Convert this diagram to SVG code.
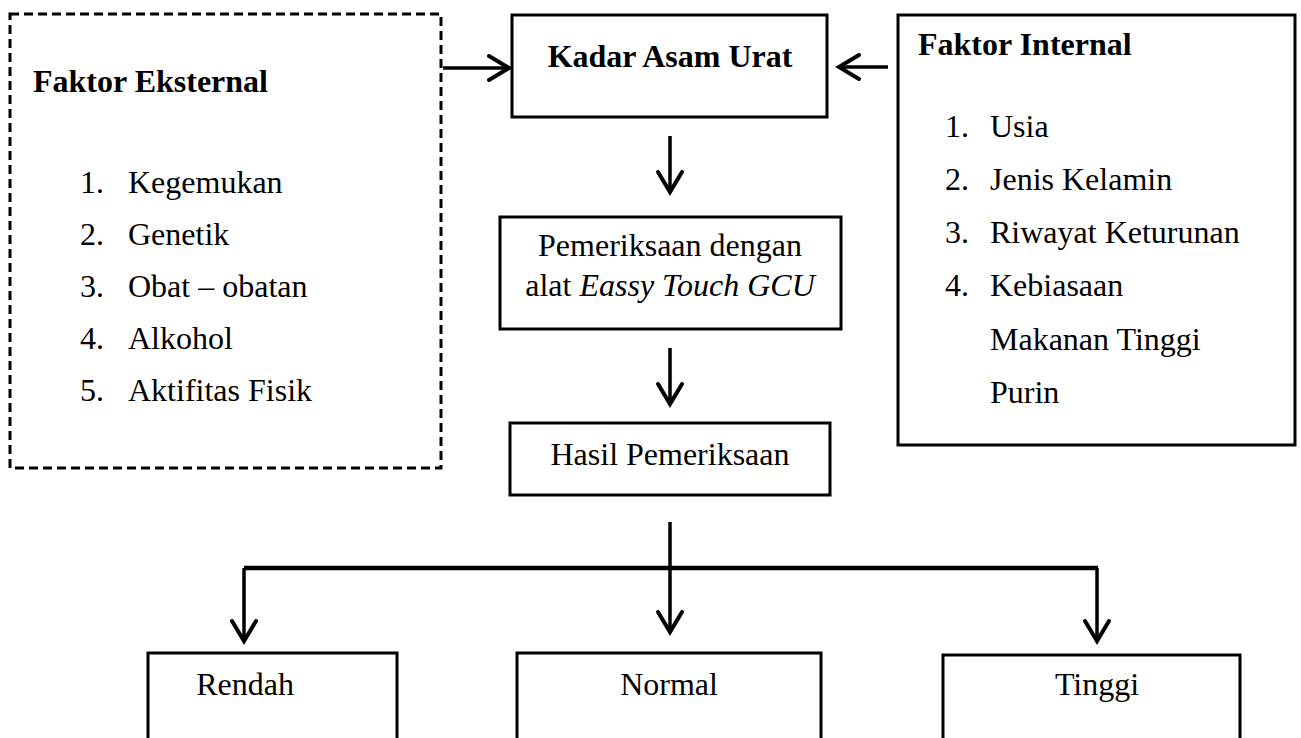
<svg xmlns="http://www.w3.org/2000/svg" width="1301" height="738" viewBox="0 0 1301 738">
<style>
.box{fill:#fff;stroke:#000;stroke-width:3}
.dash{fill:#fff;stroke:#000;stroke-width:3;stroke-dasharray:9 5}
.t{font-family:"Liberation Serif","Times New Roman",serif;font-size:32px;fill:#000}
.b{font-weight:bold}
.c{text-anchor:middle}
.ln{stroke:#000;stroke-width:3.5;fill:none}
.ah{stroke:#000;stroke-width:4;fill:none;stroke-linecap:round;stroke-linejoin:miter}
</style>
<rect width="1301" height="738" fill="#fff"/>
<g id="faktor-eksternal">
<rect class="dash" x="10" y="14" width="431" height="454"/>
<text class="t b" x="33" y="92">Faktor Eksternal</text>
<text class="t" x="80" y="193">1.</text><text class="t" x="128" y="193">Kegemukan</text>
<text class="t" x="80" y="245">2.</text><text class="t" x="128" y="245">Genetik</text>
<text class="t" x="80" y="297">3.</text><text class="t" x="128" y="297">Obat – obatan</text>
<text class="t" x="80" y="349">4.</text><text class="t" x="128" y="349">Alkohol</text>
<text class="t" x="80" y="401">5.</text><text class="t" x="128" y="401">Aktifitas Fisik</text>
</g>
<g id="kadar">
<rect class="box" x="512" y="15" width="315" height="102"/>
<text class="t b c" x="670" y="67">Kadar Asam Urat</text>
</g>
<g id="faktor-internal">
<rect class="box" x="898" y="15" width="397" height="430"/>
<text class="t b" x="918" y="55">Faktor Internal</text>
<text class="t" x="945" y="137">1.</text><text class="t" x="990" y="137">Usia</text>
<text class="t" x="945" y="190">2.</text><text class="t" x="990" y="190">Jenis Kelamin</text>
<text class="t" x="945" y="243">3.</text><text class="t" x="990" y="243">Riwayat Keturunan</text>
<text class="t" x="945" y="296">4.</text><text class="t" x="990" y="296">Kebiasaan</text>
<text class="t" x="990" y="350">Makanan Tinggi</text>
<text class="t" x="990" y="403">Purin</text>
</g>
<g id="pemeriksaan">
<rect class="box" x="500" y="217" width="341" height="112"/>
<text class="t c" x="670" y="256">Pemeriksaan dengan</text>
<text class="t c" x="670" y="296">alat <tspan font-style="italic">Eassy Touch GCU</tspan></text>
</g>
<g id="hasil">
<rect class="box" x="510" y="423" width="320" height="72"/>
<text class="t c" x="670" y="465">Hasil Pemeriksaan</text>
</g>
<g id="rendah">
<path class="box" d="M148 740 V653 H397 V740"/>
<text class="t c" x="245" y="695">Rendah</text>
</g>
<g id="normal">
<path class="box" d="M517 740 V653 H821 V740"/>
<text class="t c" x="669" y="695">Normal</text>
</g>
<g id="tinggi">
<path class="box" d="M943 740 V655 H1240 V740"/>
<text class="t c" x="1097" y="695">Tinggi</text>
</g>
<g id="connectors">
<line class="ln" x1="443" y1="68" x2="509" y2="68"/>
<path class="ah" d="M489 56 L509 68 L489 80"/>
<line class="ln" x1="888" y1="67" x2="839" y2="67"/>
<path class="ah" d="M859 55 L839 67 L859 79"/>
<line class="ln" x1="670" y1="136" x2="670" y2="192"/>
<path class="ah" d="M658 172 L670 192 L682 172"/>
<line class="ln" x1="670" y1="348" x2="670" y2="404"/>
<path class="ah" d="M658 384 L670 404 L682 384"/>
<line class="ln" x1="670" y1="522" x2="670" y2="632"/>
<path class="ah" d="M658 612 L670 632 L682 612"/>
<line stroke="#000" stroke-width="4.5" x1="244" y1="568" x2="1098" y2="568"/>
<line class="ln" x1="244" y1="568" x2="244" y2="641"/>
<path class="ah" d="M232 621 L244 641 L256 621"/>
<line class="ln" x1="1097" y1="568" x2="1097" y2="641"/>
<path class="ah" d="M1085 621 L1097 641 L1109 621"/>
</g>
</svg>
